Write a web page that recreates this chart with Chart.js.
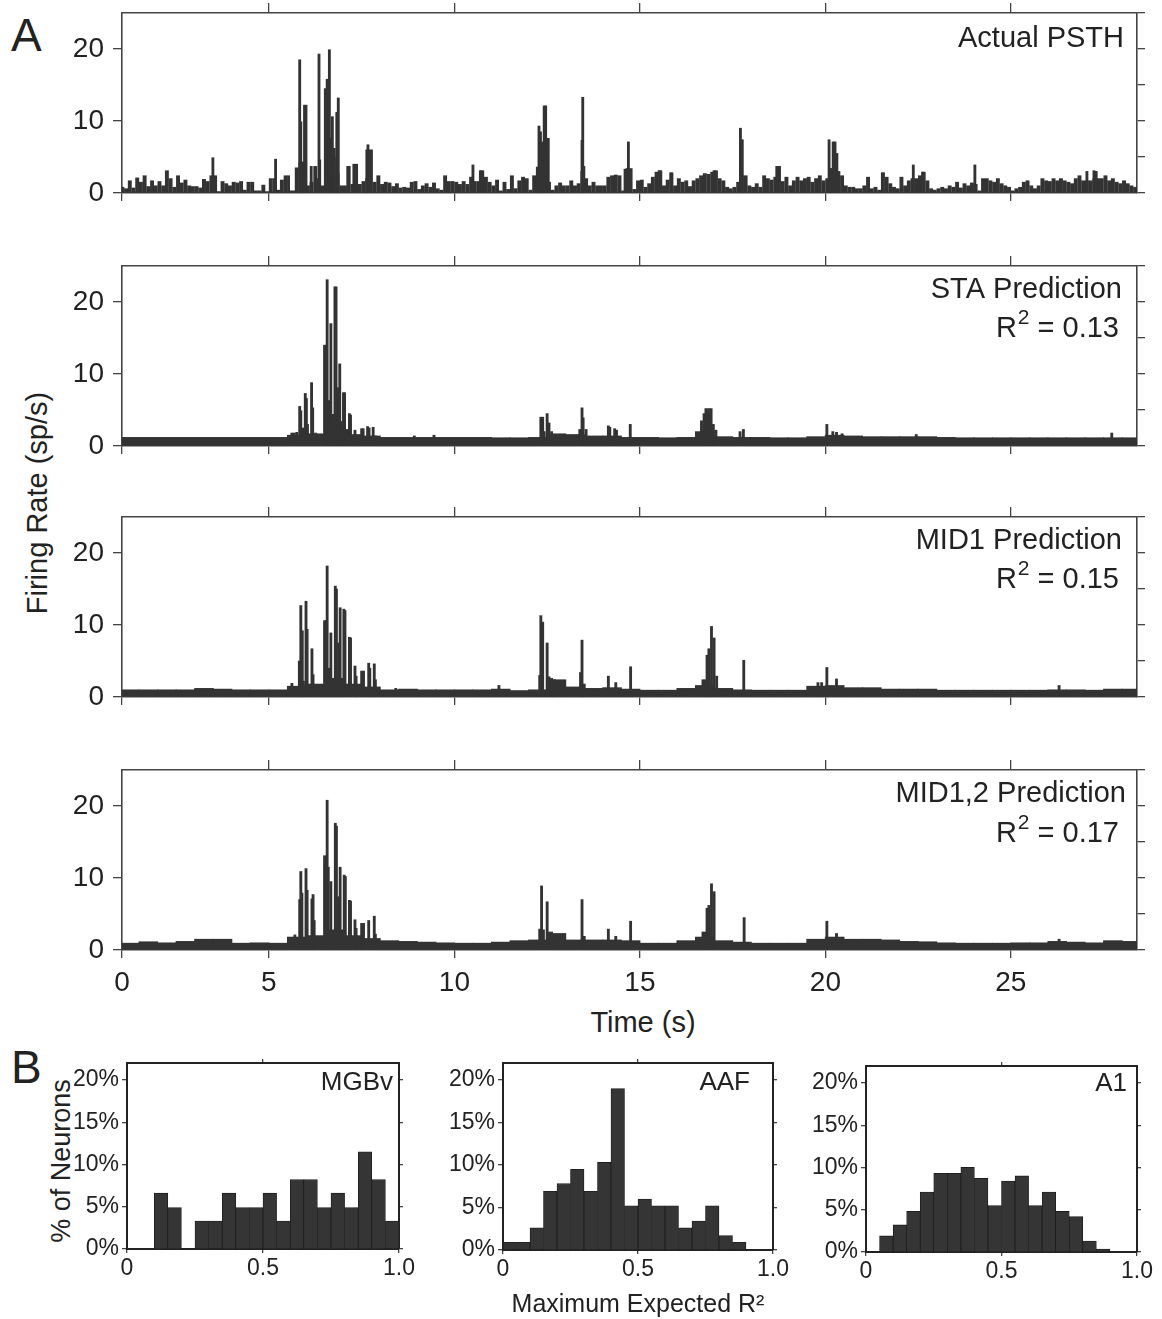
<!DOCTYPE html>
<html>
<head>
<meta charset="utf-8">
<script src="https://cdn.jsdelivr.net/npm/chart.js@4.4.0/dist/chart.umd.min.js"></script>
<style>
body { margin: 0; background: #fff; }
#fig { position: relative; width: 1162px; height: 1319px; overflow: hidden; font-family: "Liberation Sans", Arial, sans-serif; color: #222; }
canvas { position: absolute; }
.lab { position: absolute; white-space: nowrap; line-height: 1; }
.ctr { transform: translate(-50%, -50%); }
.rot { transform: translate(-50%, -50%) rotate(-90deg); }
</style>
</head>
<body>
<div id="fig">
  <div class="lab" style="left:11px; top:12px; font-size:46px;">A</div>
  <div class="lab" style="left:11px; top:1044px; font-size:46px;">B</div>
  <div class="lab rot" style="left:37px; top:503px; font-size:29px;">Firing Rate (sp/s)</div>
  <div class="lab ctr" style="left:643px; top:1022px; font-size:29px;">Time (s)</div>
  <div class="lab rot" style="left:61px; top:1161px; font-size:27px;">% of Neurons</div>
  <canvas id="p1"></canvas>
  <canvas id="p2"></canvas>
  <canvas id="p3"></canvas>
  <canvas id="p4"></canvas>
  <canvas id="h1"></canvas>
  <canvas id="h2"></canvas>
  <canvas id="h3"></canvas>
</div>
<script>
// time axis (s) and firing rate axis (sp/s)
const X_MIN = 1.04, X_MAX = 28.4;
const timeTicks = [5, 10, 15, 20, 25];
const rateTicks = [0, 5, 10, 15, 20, 25];

// Actual PSTH: 0.1 s bins starting at 1.0 s
const actualBase = [
  0.8, 0.6, 1.7, 0.7, 2.1, 1.5, 2.4, 0.9, 1.7, 1.0,
  1.6, 1.0, 3.1, 2.0, 0.8, 2.4, 1.4, 1.8, 1.0, 0.9,
  0.9, 0.7, 1.9, 1.6, 2.4, 2.4, 0.2, 1.6, 1.3, 1.0,
  1.5, 1.4, 1.6, 0.4, 1.5, 1.5, 0.3, 0.3, 1.1, 0.2,
  2.0, 2.0, 0.4, 1.8, 2.4, 0.3, 0.3, 3.5, 4.3, 2.0,
  1.0, 1.5, 3.7, 2.0, 1.0, 4.6, 4.8, 5.0, 2.7, 1.0,
  1.0, 3.7, 1.2, 4.0, 1.2, 1.6, 2.0, 6.0, 1.5, 2.4,
  1.2, 1.5, 1.4, 0.9, 1.3, 0.7, 0.8, 0.7, 1.5, 1.6,
  0.5, 1.0, 1.3, 0.8, 1.4, 0.6, 0.4, 2.4, 1.6, 1.6,
  1.5, 1.2, 1.6, 1.2, 2.2, 1.6, 1.6, 3.1, 2.2, 1.5,
  1.0, 1.8, 0.3, 1.5, 0.5, 2.4, 0.6, 1.7, 2.2, 2.0,
  0.4, 2.4, 3.6, 4.5, 5.0, 1.5, 0.4, 1.0, 1.4, 1.0,
  1.0, 1.7, 1.0, 1.3, 3.0, 2.0, 1.0, 1.5, 1.0, 1.0,
  1.0, 2.2, 2.4, 2.5, 2.4, 0.3, 3.3, 3.4, 0.5, 1.7,
  1.8, 0.8, 1.3, 2.2, 2.9, 3.1, 1.0, 1.8, 2.8, 1.0,
  2.0, 1.5, 1.7, 0.9, 1.7, 2.0, 2.4, 2.7, 2.6, 2.9,
  3.1, 2.0, 1.7, 0.8, 0.6, 0.8, 1.5, 2.4, 2.4, 1.0,
  0.8, 1.3, 0.8, 2.4, 2.0, 1.8, 2.2, 3.7, 1.6, 2.2,
  1.0, 1.7, 2.2, 1.7, 2.0, 2.2, 1.5, 2.0, 2.4, 1.7,
  2.0, 3.4, 3.0, 3.0, 2.4, 1.0, 0.8, 0.8, 0.6, 0.6,
  1.0, 2.2, 0.6, 0.8, 0.4, 2.8, 2.2, 1.3, 0.8, 0.6,
  2.2, 1.0, 1.7, 2.0, 2.0, 2.4, 2.9, 1.7, 0.6, 0.4,
  0.6, 0.8, 0.6, 1.0, 0.8, 1.5, 0.7, 1.3, 1.0, 1.4,
  1.2, 0.3, 2.0, 2.0, 1.7, 1.5, 2.0, 1.3, 1.0, 0.8,
  0.3, 0.6, 0.8, 1.5, 1.7, 1.0, 0.6, 1.0, 2.0, 1.7,
  1.6, 2.0, 1.7, 2.0, 1.7, 1.5, 1.3, 2.0, 2.4, 1.7,
  1.7, 1.7, 2.0, 2.0, 2.0, 2.4, 1.7, 2.0, 1.5, 1.3,
  1.7, 1.3, 1.0, 0.8, 0.6
];
// narrow peaks [time s, rate sp/s]
const actualSpikes = [
  [3.49, 4.9], [5.18, 4.7], [5.53, 2.4], [5.83, 18.5], [5.86, 9.9], [5.92, 4.3], [5.96, 12.2], [6.00, 12.2],
  [6.14, 3.7], [6.35, 19.3], [6.37, 4.6], [6.52, 14.5], [6.57, 15.8], [6.63, 19.9], [6.67, 7.6], [6.71, 10.6],
  [6.76, 6.2], [6.83, 11.2], [6.87, 13.2], [7.13, 3.7], [7.29, 4.0], [7.64, 6.0], [7.67, 6.7],
  [10.50, 3.9], [10.70, 3.1], [12.28, 9.3], [12.32, 8.5], [12.36, 7.1], [12.42, 12.1], [12.46, 12.1], [12.53, 7.6],
  [13.44, 7.3], [13.46, 13.3], [13.49, 3.7], [14.60, 3.3], [14.65, 3.4], [14.69, 7.1], [15.52, 3.1], [15.84, 2.8],
  [17.00, 3.1], [17.71, 9.0], [17.76, 7.4], [18.69, 3.7], [20.10, 7.4], [20.13, 3.4], [20.21, 7.1], [20.26, 7.1],
  [20.31, 5.5], [21.55, 2.8], [22.37, 3.9], [22.62, 2.9], [24.03, 3.9], [27.05, 3.0], [27.24, 3.1], [27.30, 3.0]
];

// predictions: 0.5 s floor levels starting at 1.0 s, plus narrow peaks
const staFloor = [
  1.2, 1.2, 1.2, 1.2, 1.2, 1.2, 1.2, 1.2, 1.2,
  1.5, 1.7, 2.2, 1.6, 1.4,
  1.2, 1.2, 1.2, 1.2, 1.2, 1.2, 1.15, 1.15, 1.2,
  1.7, 1.6, 1.4, 1.4, 1.2, 1.2, 1.15, 1.2, 2.0, 1.3, 1.2, 1.2, 1.15, 1.15, 1.3, 1.5, 1.4, 1.3, 1.3, 1.3, 1.3, 1.2,
  1.15, 1.15, 1.15, 1.15, 1.15, 1.15, 1.15, 1.15, 1.15, 1.15
];
const staSpikes = [
  [5.62, 1.8], [5.68, 1.8], [5.75, 1.9], [5.83, 5.5], [5.86, 4.9], [5.92, 2.5], [5.98, 7.3], [6.01, 6.6], [6.04, 3.0],
  [6.15, 8.8], [6.18, 5.3], [6.26, 1.8], [6.36, 1.6], [6.50, 14.0], [6.53, 14.0], [6.57, 23.1], [6.60, 6.3], [6.64, 6.3],
  [6.67, 17.0], [6.72, 4.4], [6.78, 22.1], [6.81, 22.1], [6.87, 8.1], [6.91, 11.4], [6.94, 3.4], [7.01, 7.4], [7.04, 7.4],
  [7.10, 2.3], [7.17, 4.5], [7.20, 4.3], [7.32, 2.2], [7.50, 2.4], [7.54, 2.4], [7.66, 2.7], [7.70, 2.5], [7.81, 2.6],
  [7.87, 1.4], [8.92, 1.4], [9.45, 1.5], [12.33, 4.0], [12.38, 4.0], [12.42, 2.0], [12.50, 4.5], [12.55, 3.2], [12.62, 2.0],
  [13.38, 2.3], [13.44, 5.3], [13.47, 3.9], [13.55, 2.3], [14.15, 2.8], [14.19, 2.6], [14.32, 2.4], [14.37, 2.2],
  [14.74, 3.0], [16.66, 3.5], [16.73, 4.5], [16.78, 5.2], [16.82, 4.5], [16.85, 5.2], [16.89, 4.5], [16.92, 5.2],
  [16.98, 3.0], [17.05, 2.2], [17.70, 2.0], [17.79, 2.3], [20.04, 3.0], [20.20, 2.0], [20.30, 1.9], [20.45, 1.7],
  [22.45, 1.6], [27.72, 1.8]
];

const mid1Floor = [
  1.0, 1.0, 1.0, 1.0, 1.2, 1.1, 1.0, 1.0, 1.0,
  1.5, 1.8, 2.6, 1.8, 1.4,
  1.0, 1.1, 1.0, 1.0, 1.0, 1.0, 1.1, 0.9, 1.0,
  2.4, 1.4, 1.2, 1.3, 1.1, 0.95, 0.95, 1.2, 1.6, 1.2, 1.0, 0.95, 0.95, 0.95, 1.5, 1.6, 1.3, 1.3, 1.1, 1.1, 1.1, 0.95,
  0.95, 0.95, 0.95, 0.95, 0.95, 1.0, 1.0, 0.95, 1.1, 1.1
];
const mid1Spikes = [
  [5.62, 1.9], [5.82, 5.0], [5.86, 12.7], [5.90, 9.2], [5.93, 2.2], [6.00, 13.3], [6.03, 9.4], [6.16, 6.7], [6.19, 3.1],
  [6.40, 1.6], [6.50, 10.6], [6.53, 10.6], [6.57, 18.2], [6.61, 4.0], [6.67, 8.9], [6.71, 2.2], [6.79, 15.4], [6.82, 15.0],
  [6.88, 7.5], [6.92, 12.4], [7.02, 12.2], [7.05, 12.0], [7.17, 8.3], [7.20, 8.2], [7.32, 4.3], [7.35, 2.9], [7.50, 3.6],
  [7.55, 3.6], [7.69, 4.7], [7.72, 4.0], [7.84, 4.6], [7.87, 2.4], [8.42, 1.2], [11.20, 1.6], [12.30, 3.0], [12.33, 11.3],
  [12.38, 10.4], [12.50, 7.5], [12.55, 2.8], [12.62, 2.6], [12.70, 2.4], [13.40, 3.4], [13.44, 7.9], [13.50, 1.8],
  [14.15, 2.9], [14.35, 2.0], [14.75, 4.2], [16.70, 2.4], [16.76, 2.4], [16.81, 5.8], [16.86, 6.7], [16.93, 9.8],
  [17.00, 8.2], [17.07, 2.9], [17.80, 5.1], [19.80, 2.0], [19.90, 2.0], [20.04, 4.1], [20.30, 2.5], [26.30, 1.6]
];

const mid12Floor = [
  0.95, 1.15, 1.0, 1.2, 1.5, 1.5, 0.95, 1.0, 0.95,
  1.8, 2.0, 2.8, 2.0, 1.6,
  1.3, 1.2, 1.1, 1.0, 0.95, 0.95, 1.1, 1.3, 1.4,
  2.3, 1.4, 1.4, 1.4, 1.3, 0.95, 0.95, 1.3, 1.8, 1.3, 1.1, 0.95, 0.95, 0.95, 1.5, 1.8, 1.5, 1.5, 1.4, 1.2, 1.15, 1.0,
  0.95, 0.95, 0.95, 1.0, 1.0, 1.2, 1.1, 1.0, 1.3, 1.2
];
const mid12Spikes = [
  [5.62, 1.7], [5.70, 2.1], [5.83, 7.0], [5.86, 10.9], [5.89, 7.9], [6.00, 11.3], [6.03, 8.3], [6.16, 7.1], [6.19, 7.7],
  [6.22, 4.1], [6.40, 1.4], [6.50, 13.1], [6.53, 11.5], [6.57, 20.8], [6.60, 11.5], [6.67, 9.5], [6.72, 2.5], [6.79, 17.6],
  [6.82, 17.2], [6.88, 7.4], [6.92, 11.5], [7.03, 10.4], [7.06, 10.2], [7.17, 6.9], [7.20, 6.8], [7.32, 4.2], [7.35, 3.0],
  [7.50, 3.7], [7.55, 3.7], [7.69, 4.1], [7.84, 4.7], [7.87, 2.2], [12.30, 2.9], [12.35, 8.9], [12.40, 2.8], [12.50, 6.7],
  [12.55, 2.5], [12.62, 2.5], [13.44, 7.0], [13.50, 1.9], [14.15, 2.9], [14.35, 1.9], [14.75, 4.0], [16.70, 2.5],
  [16.76, 2.5], [16.81, 5.8], [16.86, 6.2], [16.93, 9.2], [17.00, 8.1], [17.81, 4.5], [20.04, 4.0], [20.30, 2.3], [26.30, 1.5]
];

// B: histograms of maximum expected R^2 (0.05 bins), % of neurons
const binCenters = [0.025, 0.075, 0.125, 0.175, 0.225, 0.275, 0.325, 0.375, 0.425, 0.475,
                    0.525, 0.575, 0.625, 0.675, 0.725, 0.775, 0.825, 0.875, 0.925, 0.975];
const mgbv = [0, 0, 6.6, 4.9, 0, 3.3, 3.3, 6.6, 4.9, 4.9, 6.6, 3.3, 8.2, 8.2, 4.9, 6.6, 4.9, 11.5, 8.2, 3.3];
const aaf = [0.9, 0.9, 2.6, 6.9, 7.8, 9.5, 6.9, 10.3, 19.0, 5.2, 6.0, 5.2, 5.2, 2.6, 3.4, 5.2, 1.7, 0.9, 0, 0];
const a1 = [0, 1.9, 3.2, 4.8, 7.1, 9.3, 9.3, 10.0, 8.7, 5.5, 8.4, 9.0, 5.5, 7.1, 4.8, 4.2, 1.3, 0.35, 0, 0];

const FONT = '"Liberation Sans", Arial, sans-serif';
const INK = '#222';
const BAR = '#333';
const AXIS = '#444';
Chart.defaults.font.family = FONT;
Chart.defaults.color = INK;

// text in the upper right corner of a panel, optional R^2 line
const cornerText = {
  id: 'cornerText',
  afterDraw(chart, args, o) {
    if (!o || !o.title) return;
    const ctx = chart.ctx, a = chart.chartArea;
    ctx.save();
    ctx.fillStyle = INK;
    ctx.textBaseline = 'middle';
    ctx.font = o.size + 'px ' + FONT;
    ctx.textAlign = 'right';
    ctx.fillText(o.title, a.right - o.dx, a.top + o.dy);
    if (o.r2) {
      const big = o.size + 'px ' + FONT, small = Math.round(o.size * 0.72) + 'px ' + FONT;
      const rest = ' = ' + o.r2;
      ctx.font = big; const wR = ctx.measureText('R').width, wRest = ctx.measureText(rest).width;
      ctx.font = small; const w2 = ctx.measureText('2').width;
      let x = a.right - o.dx2 - (wR + w2 + wRest);
      const y = a.top + o.dy2;
      ctx.textAlign = 'left';
      ctx.font = big; ctx.fillText('R', x, y); x += wR;
      ctx.font = small; ctx.fillText('2', x + 1, y - o.size * 0.36); x += w2 + 1;
      ctx.font = big; ctx.fillText(rest, x, y);
    }
    ctx.restore();
  }
};

function place(id, left, top, w, h) {
  const c = document.getElementById(id);
  c.width = w; c.height = h;
  c.style.left = left + 'px'; c.style.top = top + 'px';
  return c;
}

function edgeGrid(len) {
  return { drawOnChartArea: false, drawTicks: true, tickLength: len, color: AXIS, lineWidth: 1.3 };
}

const AREA_L = 122, AREA_R = 1137, AREA_H = 180;
const pxPerSec = (AREA_R - AREA_L) / (X_MAX - X_MIN);

function psth(id, areaTop, bottomH, last, floor, floorStep, spikes, label) {
  const topH = 30;
  const c = place(id, 0, areaTop - topH, 1162, topH + AREA_H + bottomH);
  const floorData = floor.map((v, i) => ({ x: 1.0 + (i + 0.5) * floorStep, y: v }));
  const spikeData = spikes.map(p => ({ x: p[0], y: p[1] }));
  const tickFont = { size: 28 };
  return new Chart(c, {
    type: 'bar',
    data: {
      datasets: [
        { data: floorData, backgroundColor: BAR, borderWidth: 0, grouped: false,
          barThickness: floorStep * pxPerSec * (floorStep < 0.2 ? 0.88 : 1.02) },
        { data: spikeData, backgroundColor: BAR, borderWidth: 0, grouped: false, barThickness: 2.2 }
      ]
    },
    options: {
      responsive: false, animation: false, events: [],
      layout: { padding: 0 },
      plugins: { legend: { display: false }, tooltip: { enabled: false }, cornerText: label },
      scales: {
        x: {
          type: 'linear', position: 'bottom', min: X_MIN, max: X_MAX, offset: false,
          afterBuildTicks: s => { s.ticks = [X_MIN].concat(timeTicks).map(v => ({ value: v })); },
          ticks: { display: last, autoSkip: false, maxRotation: 0, font: tickFont, padding: 8,
                   callback: v => (v === X_MIN ? '0' : String(v)) },
          grid: Object.assign(edgeGrid(8), { offset: false }),
          border: { display: true, color: AXIS, width: 1.6 },
          afterFit: s => { s.height = bottomH; }
        },
        xTop: {
          type: 'linear', position: 'top', min: X_MIN, max: X_MAX, offset: false,
          afterBuildTicks: s => { s.ticks = timeTicks.map(v => ({ value: v })); },
          ticks: { display: false },
          grid: Object.assign(edgeGrid(10), { offset: false }),
          border: { display: true, color: AXIS, width: 1.6 },
          afterFit: s => { s.height = topH; }
        },
        y: {
          position: 'left', min: 0, max: 25,
          afterBuildTicks: s => { s.ticks = rateTicks.map(v => ({ value: v })); },
          ticks: { font: tickFont, padding: 9, callback: v => (v % 10 === 0 ? String(v) : '') },
          grid: edgeGrid(9),
          border: { display: true, color: AXIS, width: 1.6 },
          afterFit: s => { s.width = AREA_L; }
        },
        yRight: {
          position: 'right', min: 0, max: 25,
          afterBuildTicks: s => { s.ticks = rateTicks.map(v => ({ value: v })); },
          ticks: { display: false },
          grid: edgeGrid(8),
          border: { display: true, color: AXIS, width: 1.6 },
          afterFit: s => { s.width = 1162 - AREA_R; }
        }
      }
    },
    plugins: [cornerText]
  });
}

psth('p1', 13, 34, false, actualBase, 0.1, actualSpikes,
     { title: 'Actual PSTH', size: 29, dx: 13, dy: 26 });
psth('p2', 266, 34, false, staFloor, 0.5, staSpikes,
     { title: 'STA Prediction', size: 29, dx: 15, dy: 24, r2: '0.13', dx2: 19, dy2: 63 });
psth('p3', 517, 34, false, mid1Floor, 0.5, mid1Spikes,
     { title: 'MID1 Prediction', size: 29, dx: 15, dy: 24, r2: '0.15', dx2: 19, dy2: 63 });
psth('p4', 770, 50, true, mid12Floor, 0.5, mid12Spikes,
     { title: 'MID1,2 Prediction', size: 29, dx: 11, dy: 24, r2: '0.17', dx2: 19, dy2: 64 });

const pctTicks = [0, 5, 10, 15, 20];

function hist(id, areaL, areaR, areaT, areaB, values, label, xTitle) {
  const leftW = 100, rightW = 25, topH = 22, bottomH = 70;
  const c = place(id, areaL - leftW, areaT - topH, leftW + (areaR - areaL) + rightW, topH + (areaB - areaT) + bottomH);
  const tickFont = { size: 23 };
  return new Chart(c, {
    type: 'bar',
    data: {
      datasets: [{
        data: binCenters.map((x, i) => ({ x: x, y: values[i] })),
        backgroundColor: '#353535', borderColor: '#1c1c1c', borderWidth: 0.8,
        barPercentage: 1, categoryPercentage: 1, grouped: false
      }]
    },
    options: {
      responsive: false, animation: false, events: [],
      layout: { padding: 0 },
      plugins: { legend: { display: false }, tooltip: { enabled: false }, cornerText: label },
      scales: {
        x: {
          type: 'linear', position: 'bottom', min: 0, max: 1, offset: false,
          afterBuildTicks: s => { s.ticks = [0, 0.5, 1].map(v => ({ value: v })); },
          ticks: { autoSkip: false, maxRotation: 0, font: tickFont, padding: 2,
                   callback: v => (v === 0 ? '0' : v === 1 ? '1.0' : '0.5') },
          grid: Object.assign(edgeGrid(4), { offset: false }),
          border: { display: true, color: '#222', width: 2 },
          title: { display: !!xTitle, text: xTitle || '', font: { size: 25 }, padding: { top: 4, bottom: 0 } },
          afterFit: s => { s.height = bottomH; }
        },
        xTop: {
          type: 'linear', position: 'top', min: 0, max: 1, offset: false,
          afterBuildTicks: s => { s.ticks = [{ value: 0.5 }]; },
          ticks: { display: false },
          grid: Object.assign(edgeGrid(4), { offset: false }),
          border: { display: true, color: '#222', width: 2 },
          afterFit: s => { s.height = topH; }
        },
        y: {
          position: 'left', min: 0, max: 22,
          afterBuildTicks: s => { s.ticks = pctTicks.map(v => ({ value: v })); },
          ticks: { font: tickFont, padding: 3, callback: v => v + '%' },
          grid: edgeGrid(5),
          border: { display: true, color: '#222', width: 2 },
          afterFit: s => { s.width = leftW; }
        },
        yRight: {
          position: 'right', min: 0, max: 22,
          afterBuildTicks: s => { s.ticks = pctTicks.map(v => ({ value: v })); },
          ticks: { display: false },
          grid: edgeGrid(4),
          border: { display: true, color: '#222', width: 2 },
          afterFit: s => { s.width = rightW; }
        }
      }
    },
    plugins: [cornerText]
  });
}

hist('h1', 127, 399, 1063, 1249, mgbv, { title: 'MGBv', size: 26, dx: 6, dy: 20 });
hist('h2', 503, 773, 1063, 1250, aaf, { title: 'AAF', size: 26, dx: 23, dy: 20 }, 'Maximum Expected R\u00B2');
hist('h3', 866, 1137, 1066, 1252, a1, { title: 'A1', size: 26, dx: 10, dy: 18 });
</script>
</body>
</html>
